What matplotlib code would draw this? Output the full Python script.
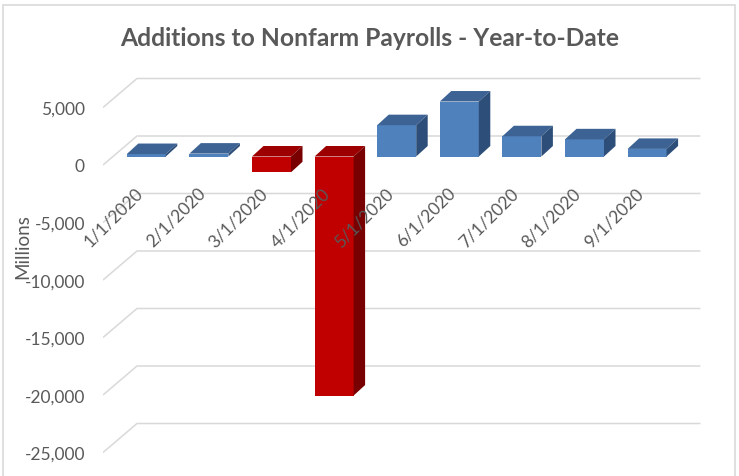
import matplotlib
matplotlib.use("Agg")
import matplotlib.pyplot as plt
from matplotlib.patches import Polygon, Rectangle
import numpy as np

# DATA
dates = ["1/1/2020", "2/1/2020", "3/1/2020", "4/1/2020", "5/1/2020",
         "6/1/2020", "7/1/2020", "8/1/2020", "9/1/2020"]
additions = [214, 251, -1373, -20787, 2725, 4781, 1761, 1493, 661]
y_ticks = [5000, 0, -5000, -10000, -15000, -20000, -25000]

title = "Additions to Nonfarm Payrolls - Year-to-Date"
y_label = "Millions"

font = ["Lato", "DejaVu Sans"]

# colours
grey_txt = "#595959"
grid_col = "#d9d9d9"
blue = ("#4f81bd", "#3c6394", "#2d4e78")   # front, top, side
red = ("#c00000", "#9c0000", "#780000")

# layout in pixels (figure is 739 x 477)
W, H = 739, 477
PX_CAT = 62.6               # pixels per category
PX_VAL = 57.5 / 5000        # pixels per value unit
ZERO_PX = 166               # front plane zero level
LEFT_PX, RIGHT_PX = 103, 710
TOP_PX, BOT_PX = 75, 462

fig = plt.figure(figsize=(W / 100, H / 100), dpi=100)
ax = fig.add_axes([LEFT_PX / W, 1 - BOT_PX / H,
                   (RIGHT_PX - LEFT_PX) / W, (BOT_PX - TOP_PX) / H])

ax.set_xlim(-0.5, -0.5 + (RIGHT_PX - LEFT_PX) / PX_CAT)
ax.set_ylim(-(BOT_PX - ZERO_PX) / PX_VAL, (ZERO_PX - TOP_PX) / PX_VAL)

# 3d offsets in data units
back_dx, back_dy = 34 / PX_CAT, 29 / PX_VAL      # floor depth (back wall)
bar_dx, bar_dy = 12 / PX_CAT, 8.5 / PX_VAL       # bar front face
dep_dx, dep_dy = 11.5 / PX_CAT, 10.5 / PX_VAL    # bar depth
bar_w = 39 / PX_CAT

n = len(dates)

# gridlines: diagonal on the floor side + line on back wall
for v in y_ticks:
    xs = [-0.5, -0.5 + back_dx, n - 0.5 + back_dx]
    ys = [v, v + back_dy, v + back_dy]
    ax.plot(xs, ys, color=grid_col, lw=1.1, zorder=1, solid_capstyle="butt")

# bars
x = np.arange(n) + bar_dx
for xi, val in zip(x, additions):
    cols = blue if val >= 0 else red
    ax.bar(xi, val, width=bar_w, bottom=bar_dy, color=cols[0], zorder=3)
    x0, x1 = xi - bar_w / 2, xi + bar_w / 2
    top = bar_dy + max(val, 0)
    bot = bar_dy + min(val, 0)
    ax.add_patch(Polygon([(x0, top), (x1, top), (x1 + dep_dx, top + dep_dy),
                          (x0 + dep_dx, top + dep_dy)],
                         closed=True, facecolor=cols[1], edgecolor="none", zorder=3))
    ax.add_patch(Polygon([(x1, bot), (x1, top), (x1 + dep_dx, top + dep_dy),
                          (x1 + dep_dx, bot + dep_dy)],
                         closed=True, facecolor=cols[2], edgecolor="none", zorder=3))

# category labels on the floor
for i, d in enumerate(dates):
    ax.text(i + 0.09, -25 / PX_VAL, d, rotation=45, rotation_mode="anchor",
            ha="right", va="center", fontsize=12.5, color=grey_txt,
            family=font, zorder=4)

# value axis
ax.set_yticks(y_ticks)
ax.set_yticklabels([f"{v:,}" for v in y_ticks], family=font,
                   fontsize=12.5, color=grey_txt)
ax.tick_params(axis="y", length=0, pad=13)
ax.set_xticks([])
for s in ax.spines.values():
    s.set_visible(False)
ax.patch.set_alpha(0)

fig.text(23 / W, 1 - 247 / H, y_label, rotation=90, ha="center", va="center",
         fontsize=13.5, color=grey_txt, family=font)
fig.text(0.5, 1 - 38 / H, title, ha="center", va="center", fontsize=17.7,
         fontweight="bold", color=grey_txt, family=font)

# chart border
fig.patches.append(Rectangle((3 / W, -0.05), (735 - 3) / W, 1.05 - 6 / H,
                             transform=fig.transFigure, fill=False,
                             edgecolor=grid_col, lw=1.2))

fig.savefig("out.png", dpi=100)
